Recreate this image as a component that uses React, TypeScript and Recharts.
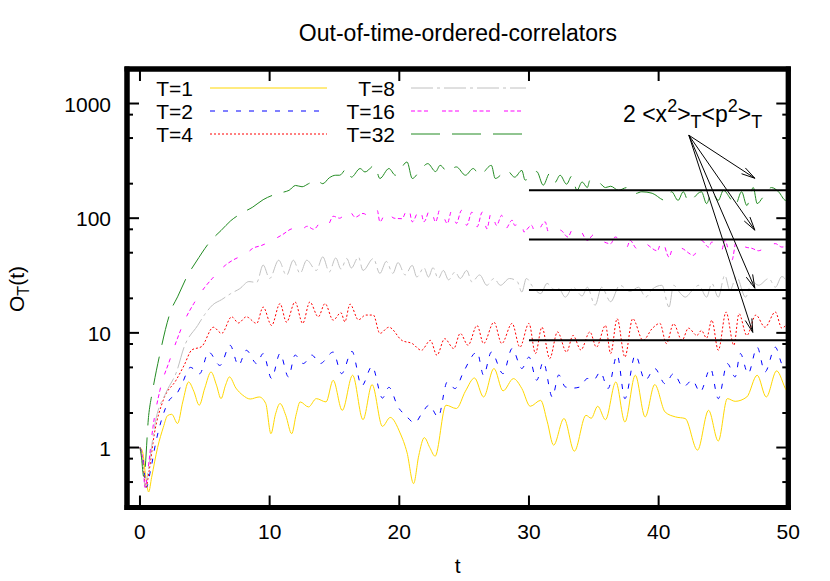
import React from 'react';
import { LineChart, Line, XAxis, YAxis, ReferenceLine, ReferenceArea } from 'recharts';

const FONT = "'Liberation Sans', Arial, Helvetica, sans-serif";

// axis ticks (gnuplot minor tics sit at 2, 5 and 8 of each decade here)
const xTicks = [0, 10, 20, 30, 40, 50];
const yTicks = [0.5, 0.8, 1, 2, 5, 8, 10, 20, 50, 80, 100, 200, 500, 800, 1000];
const yMajor = [1, 10, 100, 1000];

// [t, O_T(t)], mostly at turning points
const otocT1: [number, number][] = [
  [0, 1], [0.2, 0.92], [0.45, 0.55], [0.67, 0.41], [0.9, 0.55], [1.36, 1.0], [1.8, 1.5], [2.13, 1.9], [2.45, 1.95],
  [2.9, 1.62], [3.3, 2.5], [3.75, 3.73], [4.15, 3.1], [4.57, 2.34], [5.0, 3.3], [5.48, 4.56], [5.9, 3.5], [6.25, 2.67],
  [6.6, 3.5], [6.9, 4.13], [7.4, 3.3], [7.93, 2.86], [8.5, 2.65], [9.2, 2.76], [9.7, 2.42], [10.1, 1.32], [10.45, 1.95],
  [10.8, 2.42], [11.25, 1.9], [11.7, 1.32], [12.05, 1.95], [12.35, 2.5], [13.0, 2.26], [13.6, 2.67], [14.35, 2.5],
  [14.9, 3.86], [15.6, 2.11], [16.4, 4.27], [17.2, 1.75], [17.9, 3.54], [18.7, 1.53], [19.3, 1.83], [20.06, 1.34],
  [20.6, 0.9], [21.1, 0.485], [21.5, 0.85], [21.93, 1.22], [22.35, 1.0], [22.76, 0.84], [23.6, 2.34], [24.4, 2.19],
  [25.1, 3.1], [25.8, 4.04], [26.5, 2.76], [27.3, 4.89], [28.0, 3.12], [28.8, 3.99], [29.45, 3.27], [30.1, 2.29],
  [30.9, 2.58], [31.4, 1.7], [31.9, 1.05], [32.7, 1.79], [33.5, 0.93], [34.4, 1.91], [34.8, 1.8], [35.3, 2.29],
  [35.9, 1.75], [36.7, 3.73], [37.4, 1.67], [38.2, 4.27], [38.96, 1.85], [39.7, 3.54], [40.5, 2.04], [41.3, 1.85],
  [42.05, 1.79], [43.0, 0.95], [43.85, 2.11], [44.6, 1.14], [45.3, 2.67], [45.9, 2.53], [46.8, 2.76], [47.6, 4.27],
  [48.3, 2.76], [49.1, 4.66], [49.85, 3.16], [50, 3.0],
];

const otocT2: [number, number][] = [
  [0, 1], [0.2, 0.85], [0.5, 0.45], [0.8, 0.62], [1.23, 1.12], [1.7, 1.8], [2.27, 2.6], [2.8, 2.9], [3.2, 3.5],
  [3.9, 5.0], [4.6, 4.4], [5.3, 6.8], [6.17, 5.2], [6.95, 7.8], [7.6, 5.2], [8.2, 7.05], [9.0, 5.4], [9.5, 6.6],
  [10.15, 4.0], [10.8, 6.6], [11.45, 4.13], [11.96, 6.4], [12.6, 5.4], [13.25, 6.4], [13.9, 5.4], [14.9, 6.8],
  [15.55, 4.41], [16.35, 6.9], [17.1, 3.45], [17.9, 5.1], [18.7, 2.7], [19.2, 3.35], [19.9, 2.26], [20.5, 1.9],
  [21.2, 1.64], [21.7, 1.95], [22.3, 2.34], [23.0, 1.85], [23.7, 3.73], [24.3, 3.27], [24.95, 4.56], [26.0, 6.8],
  [26.5, 4.27], [27.1, 6.8], [28.0, 4.41], [28.7, 7.3], [29.45, 4.89], [30.0, 6.15], [30.6, 3.86], [31.1, 5.58],
  [31.8, 2.76], [32.3, 4.3], [32.8, 3.38], [33.4, 3.3], [33.95, 3.38], [34.5, 4.0], [35.0, 3.9], [35.5, 4.56],
  [36.1, 3.27], [36.8, 6.4], [37.4, 2.67], [38.2, 6.4], [38.96, 3.86], [39.7, 4.89], [40.5, 3.6], [41.15, 4.41],
  [41.9, 3.38], [42.6, 3.86], [43.2, 3.05], [44.0, 4.89], [44.6, 2.67], [45.3, 5.4], [45.9, 4.13], [46.3, 6.6],
  [46.9, 4.41], [47.6, 7.5], [48.2, 4.56], [49.0, 7.5], [49.6, 5.2], [50, 5.8],
];

const otocT4: [number, number][] = [
  [0, 1], [0.2, 0.8], [0.45, 0.45], [0.7, 0.62], [1.1, 1.3], [1.8, 2.6], [2.78, 3.86], [3.4, 5.2], [4.0, 7.1],
  [4.76, 7.6], [5.66, 11.2], [6.3, 9.9], [7.07, 13.8], [7.6, 12.2], [8.2, 13.8], [9.0, 12.1], [9.5, 16.8],
  [10.15, 11.6], [10.8, 18.0], [11.3, 12.4], [11.96, 18.6], [12.55, 12.1], [13.1, 18.6], [13.75, 13.8], [14.27, 18],
  [14.9, 12.9], [15.5, 15], [15.8, 12.5], [16.2, 17.8], [16.85, 13.0], [17.4, 14.3], [18.0, 14.3], [18.5, 9.9],
  [19.2, 11.2], [20.2, 8.6], [21.0, 8.07], [21.7, 7.05], [22.4, 8.6], [22.9, 6.38], [23.5, 8.9], [24.2, 7.3],
  [24.7, 9.9], [25.3, 7.8], [26.0, 11.6], [26.5, 8.07], [27.3, 12.4], [27.9, 8.07], [28.7, 12.1], [29.3, 7.5],
  [30.0, 12.1], [30.5, 6.6], [31.0, 11.2], [31.6, 5.97], [32.2, 10.2], [32.9, 6.8], [33.4, 9.5], [34.0, 7.1],
  [34.7, 10.2], [35.2, 7.5], [35.9, 11.6], [36.3, 6.6], [36.8, 13.3], [37.4, 6.15], [38.0, 13.3], [38.8, 8.6],
  [39.5, 10.9], [40.1, 12.1], [40.6, 8.07], [41.15, 12], [41.8, 8.6], [42.3, 11], [42.95, 9.5], [43.3, 10.5],
  [43.7, 9], [44.1, 12.9], [44.6, 7.05], [45.2, 15.2], [45.8, 7.8], [46.2, 14.7], [46.8, 9.5], [47.5, 14.3],
  [48.2, 11.2], [49.0, 15.2], [49.5, 11], [50, 12.5],
];

const otocT8: [number, number][] = [
  [0, 1], [0.2, 0.78], [0.4, 0.45], [0.65, 0.65], [1.2, 1.7], [2.0, 3.0], [2.83, 4.6], [3.4, 7.5], [4.45, 11.6],
  [5.0, 14.5], [5.6, 17.5], [6.3, 19.5], [7.0, 22], [7.7, 24.3], [8.4, 28], [9.0, 27.5], [9.5, 39], [10.0, 29.8],
  [10.7, 43], [11.3, 31.7], [11.83, 43], [12.35, 33], [12.86, 43], [13.6, 35], [14.1, 46], [14.6, 34], [15.1, 45],
  [15.5, 36], [15.95, 44.5], [16.3, 36.8], [16.85, 45.9], [17.2, 35], [18.0, 44.5], [18.5, 33], [19.0, 42],
  [19.5, 33], [19.9, 41], [20.45, 32], [21.0, 38.8], [21.35, 30.7], [21.9, 37], [22.25, 30.7], [22.6, 37],
  [23.0, 29.8], [23.4, 35], [23.8, 29], [24.3, 34], [24.7, 29.8], [25.2, 35], [25.6, 27.8], [26.2, 32],
  [26.75, 26], [27.3, 29.8], [27.8, 26], [28.5, 29.8], [29.1, 28], [29.45, 22.7], [29.8, 29.8], [30.3, 25.2],
  [30.9, 22], [31.4, 27], [31.9, 24], [32.3, 24.3], [32.8, 20.5], [33.4, 25], [34.1, 21], [34.5, 25], [35.1, 17.4],
  [35.6, 25], [36.3, 18.7], [37.0, 26], [37.8, 23], [38.45, 25], [39.0, 20.5], [39.5, 24], [40.25, 26], [40.8, 16.8],
  [41.15, 26], [41.7, 22], [42.05, 20.5], [42.6, 23.5], [43.1, 26], [43.7, 20.5], [44.1, 27], [44.6, 20.5],
  [45.1, 31.8], [45.5, 23.5], [46.0, 31], [46.7, 20.5], [47.2, 28], [47.7, 26], [48.5, 29.8], [49.0, 25],
  [49.5, 31], [50, 27],
];

const otocT16: [number, number][] = [
  [0, 1], [0.2, 0.8], [0.4, 0.45], [0.6, 0.62], [1.0, 1.5], [1.54, 3.16], [2.3, 5.8], [2.9, 9], [3.4, 12.5],
  [4.15, 18], [5.0, 25], [5.6, 30], [6.6, 39], [7.4, 44.5], [8.1, 48], [8.7, 54.6], [9.4, 58], [10.2, 64],
  [11.0, 72], [11.8, 81], [12.3, 77], [12.9, 85], [13.4, 80], [14.0, 93], [14.5, 88], [14.9, 104], [15.4, 100],
  [16.1, 117], [16.6, 102], [17.2, 110], [17.7, 104], [18.3, 117], [18.5, 93], [19.0, 113], [19.6, 100],
  [20.2, 99], [20.7, 125], [21.0, 93], [21.6, 121], [21.9, 93], [22.4, 121], [22.8, 93], [23.15, 121], [23.7, 90],
  [24.05, 117], [24.4, 90], [24.8, 117], [25.2, 86.6], [25.6, 113], [26.0, 84], [26.4, 113], [26.75, 81],
  [27.1, 113], [27.5, 86.6], [27.9, 106], [28.2, 81], [28.7, 96], [28.9, 86.6], [29.45, 93], [29.6, 76],
  [30.2, 86.6], [30.5, 73], [31.25, 93], [31.5, 76], [32.0, 81], [32.5, 78], [33.0, 68.6], [33.4, 81],
  [33.95, 78], [34.5, 64], [35.0, 72], [35.4, 66], [36.3, 60], [36.65, 68.6], [37.55, 56], [37.8, 64],
  [38.3, 54.6], [38.8, 61], [39.9, 52], [40.25, 64], [40.8, 45.9], [41.15, 57], [41.8, 54.6], [42.7, 47.5],
  [43.3, 64], [43.85, 56], [44.1, 62], [44.85, 52], [45.1, 64], [45.65, 43], [46.0, 64], [46.7, 56], [47.2, 54.6],
  [47.7, 52], [48.3, 56], [49.0, 60], [49.5, 56], [50, 58],
];

const otocT32: [number, number][] = [
  [0, 1], [0.1, 0.85], [0.3, 0.55], [0.67, 1.9], [0.98, 3.16], [1.49, 6.2], [2.39, 15.7], [2.9, 20.6],
  [3.68, 31.8], [4.32, 41.5], [5.48, 64], [6.25, 78], [7.0, 95], [7.8, 110], [8.7, 125], [9.5, 145], [10.2, 158],
  [11.0, 168], [11.5, 175], [12.0, 193], [12.5, 188], [13.0, 200], [13.6, 214], [14.1, 200], [14.6, 225],
  [15.1, 237], [15.4, 237], [15.95, 271], [16.3, 228], [16.98, 271], [17.35, 253], [18.1, 289], [18.5, 222],
  [19.2, 271], [19.7, 237], [20.6, 309], [21.0, 222], [21.7, 271], [22.2, 299], [22.8, 255], [23.15, 289],
  [23.7, 255], [24.4, 280], [25.1, 237], [25.7, 271], [26.2, 237], [27.1, 289], [27.4, 222], [28.3, 261],
  [28.9, 228], [29.45, 261], [29.7, 215], [30.6, 255], [31.1, 194], [31.6, 246], [32.0, 205], [32.4, 237],
  [32.9, 198], [33.3, 233], [33.7, 175], [34.1, 207], [34.5, 185], [34.7, 214], [35.4, 205], [35.9, 185],
  [36.3, 190], [36.9, 175], [37.55, 185], [38.2, 164], [38.7, 170], [39.5, 165], [40.5, 143], [41.0, 170],
  [41.5, 143], [41.9, 170], [42.3, 140], [43.3, 170], [43.7, 134], [44.1, 170], [44.6, 143], [45.0, 175],
  [45.5, 150], [45.9, 129], [46.4, 170], [46.8, 129], [47.3, 185], [47.6, 134], [48.0, 150], [48.7, 185],
  [49.25, 170], [49.8, 143], [50, 150],
];

const seriesNames = ['T=1', 'T=2', 'T=4', 'T=8', 'T=16', 'T=32'];
const seriesColors = ['#ffd700', '#0000ff', '#ff0000', '#c0c0c0', '#ff00ff', '#228b22'];
const seriesDash = ['', '5 8', '2 2', '22 4 3 4', '4 2.5 4 2.5 4 14', '29 12'];
const seriesPoints = [otocT1, otocT2, otocT4, otocT8, otocT16, otocT32];

// 2 <x^2>_T <p^2>_T levels, drawn from t = 30 on, and the arrows pointing at them
const plateauStart = 30;
const plateau = [175, 65.2, 23.6, 8.63];
const arrowFrom = { x: 42.33, y: 529 };
const arrowTips = [
  { x: 47.42, y: 223 },
  { x: 47.42, y: 78.6 },
  { x: 47.42, y: 24.5 },
  { x: 47.26, y: 10.1 },
];

const toRows = (pts: [number, number][]) => pts.map(([t, v]) => ({ t, v }));

const tickLine = { stroke: '#000', strokeWidth: 2 };
const labelStyle = { fontSize: 21, fontFamily: FONT, fill: '#000' };
const bigLabel = { ...labelStyle, fontSize: 23 };
const frame = { stroke: '#000', strokeWidth: 5, strokeLinecap: 'square' as const };

const LeftTick = (p: any) => {
  const v = p.payload.value;
  const major = yMajor.includes(v);
  return (
    <g>
      <line x1={p.x} x2={p.x + (major ? 12 : 6)} y1={p.y} y2={p.y} {...tickLine} />
      {major && (
        <text x={p.x - 16} y={p.y + 8} textAnchor="end" {...labelStyle}>
          {v}
        </text>
      )}
    </g>
  );
};

const RightTick = (p: any) => {
  const major = yMajor.includes(p.payload.value);
  return <line x1={p.x} x2={p.x - (major ? 12 : 6)} y1={p.y} y2={p.y} {...tickLine} />;
};

const BottomTick = (p: any) => (
  <g>
    <line x1={p.x} x2={p.x} y1={p.y} y2={p.y - 12} {...tickLine} />
    <text x={p.x} y={p.y + 31} textAnchor="middle" {...labelStyle}>
      {p.payload.value}
    </text>
  </g>
);

const TopTick = (p: any) => <line x1={p.x} x2={p.x} y1={p.y} y2={p.y + 12} {...tickLine} />;

// open gnuplot-style arrow head
const ArrowShape = (p: any) => {
  const { x1, y1, x2, y2 } = p;
  const ang = Math.atan2(y2 - y1, x2 - x1);
  const len = 14;
  const spread = 0.25;
  const ax = x2 - len * Math.cos(ang - spread);
  const ay = y2 - len * Math.sin(ang - spread);
  const bx = x2 - len * Math.cos(ang + spread);
  const by = y2 - len * Math.sin(ang + spread);
  return (
    <g>
      <line x1={x1} y1={y1} x2={x2} y2={y2} stroke="#000" strokeWidth={1} />
      <path d={`M${ax},${ay} L${x2},${y2} L${bx},${by}`} fill="none" stroke="#000" strokeWidth={1} />
    </g>
  );
};

const Legend: React.FC = () => {
  const rows = [88, 111, 134];
  return (
    <g>
      {seriesNames.map((name, i) => {
        const col = i < 3 ? 0 : 1;
        const y = rows[i % 3];
        const textRight = col === 0 ? 193 : 395;
        const lineFrom = col === 0 ? 210 : 411;
        const lineTo = col === 0 ? 327 : 526;
        return (
          <g key={name}>
            <text x={textRight} y={y + 7.5} textAnchor="end" {...labelStyle}>
              {name}
            </text>
            <line
              x1={lineFrom}
              x2={lineTo}
              y1={y}
              y2={y}
              stroke={seriesColors[i]}
              strokeWidth={1}
              strokeDasharray={seriesDash[i] || undefined}
            />
          </g>
        );
      })}
    </g>
  );
};

export default function App() {
  return (
    <div style={{ position: 'absolute', left: 0, top: 0, width: 830, height: 581, background: '#fff' }}>
      <LineChart width={830} height={581} margin={{ top: 0, right: 0, bottom: 0, left: 0 }}>
        <XAxis
          type="number"
          dataKey="t"
          domain={[-1, 50]}
          ticks={xTicks}
          interval={0}
          allowDataOverflow
          height={73.5}
          tickSize={0}
          tickMargin={0}
          tickLine={false}
          axisLine={frame}
          tick={BottomTick}
        />
        <XAxis
          xAxisId="top"
          orientation="top"
          type="number"
          dataKey="t"
          domain={[-1, 50]}
          ticks={xTicks}
          interval={0}
          allowDataOverflow
          height={69}
          tickSize={0}
          tickMargin={0}
          tickLine={false}
          axisLine={frame}
          tick={TopTick}
        />
        <YAxis
          type="number"
          scale="log"
          domain={[0.3, 2000]}
          ticks={yTicks}
          interval={0}
          allowDataOverflow
          width={127}
          tickSize={0}
          tickMargin={0}
          tickLine={false}
          axisLine={frame}
          tick={LeftTick}
        />
        <YAxis
          yAxisId="right"
          orientation="right"
          type="number"
          scale="log"
          domain={[0.3, 2000]}
          ticks={yTicks}
          interval={0}
          allowDataOverflow
          width={41.7}
          tickSize={0}
          tickMargin={0}
          tickLine={false}
          axisLine={frame}
          tick={RightTick}
        />
        {seriesPoints.map((pts, i) => (
          <Line
            key={seriesNames[i]}
            data={toRows(pts)}
            dataKey="v"
            name={seriesNames[i]}
            type="monotone"
            stroke={seriesColors[i]}
            strokeWidth={1}
            strokeDasharray={seriesDash[i] || undefined}
            dot={false}
            activeDot={false}
            isAnimationActive={false}
          />
        ))}
        {plateau.map((v) => (
          <ReferenceLine
            key={`plateau-${v}`}
            segment={[{ x: plateauStart, y: v }, { x: 50, y: v }]}
            stroke="#000"
            strokeWidth={2}
          />
        ))}
        {arrowTips.map((tip, i) => (
          <ReferenceLine key={`arrow-${i}`} segment={[arrowFrom, tip]} shape={ArrowShape} />
        ))}
        {/* heavy gnuplot border */}
        <ReferenceArea
          x1={-1}
          x2={50}
          y1={0.3}
          y2={2000}
          fill="none"
          fillOpacity={0}
          stroke="#000"
          strokeWidth={5}
          ifOverflow="visible"
        />
      </LineChart>
      <svg
        width={830}
        height={581}
        style={{ position: 'absolute', left: 0, top: 0, pointerEvents: 'none' }}
      >
        <text x={458} y={41} textAnchor="middle" {...bigLabel}>
          Out-of-time-ordered-correlators
        </text>
        <text x={457.6} y={573} textAnchor="middle" {...labelStyle}>
          t
        </text>
        <text x={24} y={289} transform="rotate(-90 24 289)" textAnchor="middle" {...labelStyle}>
          O<tspan dy={5} fontSize={16}>T</tspan>
          <tspan dy={-5}>(t)</tspan>
        </text>
        <Legend />
        <text x={623} y={121.7} {...bigLabel}>
          2 &lt;x<tspan dy={-10} fontSize={18}>2</tspan>
          <tspan dy={10}>&gt;</tspan>
          <tspan dy={6} fontSize={18}>T</tspan>
          <tspan dy={-6}>&lt;p</tspan>
          <tspan dy={-10} fontSize={18}>2</tspan>
          <tspan dy={10}>&gt;</tspan>
          <tspan dy={6} fontSize={18}>T</tspan>
        </text>
      </svg>
    </div>
  );
}
